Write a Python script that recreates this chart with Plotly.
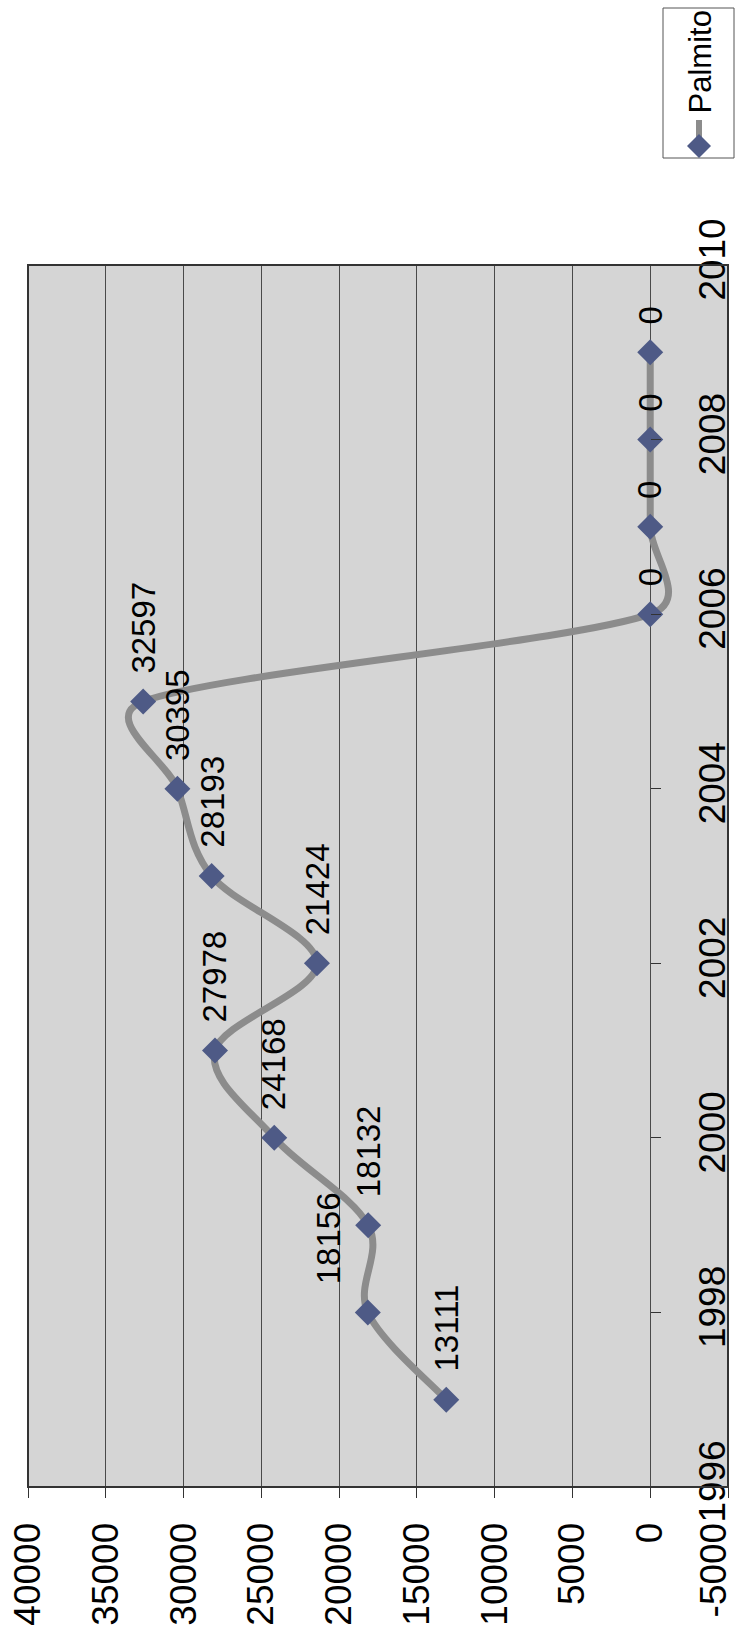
import math
import plotly.graph_objects as go

# ---- data -------------------------------------------------------------
years = [1997, 1998, 1999, 2000, 2001, 2002, 2003, 2004, 2005, 2006, 2007, 2008, 2009]
palmito = [13111, 18156, 18132, 24168, 27978, 21424, 28193, 30395, 32597, 0, 0, 0, 0]
value_ticks = [40000, 35000, 30000, 25000, 20000, 15000, 10000, 5000, 0, -5000]
year_ticks = [1996, 1998, 2000, 2002, 2004, 2006, 2008, 2010]
series_name = "Palmito"

# ---- layout constants -------------------------------------------------
W, H = 738, 1632
ML, MR, MT, MB = 28, 10, 265, 145
PW, PH = W - ML - MR, H - MT - MB
FONT = "Liberation Sans, Arial, sans-serif"
LINE_COLOR = "#8c8c8c"
MARKER_COLOR = "#4e5a86"
X_RANGE = [40000, -5000]  # value axis runs right-to-left
Y_RANGE = [1996, 2010]
TICK_FONT = 37
X_STANDOFF = 10


def px_to_paper(px, py):
    """Convert page pixel position to paper coordinates."""
    return (px - ML) / PW, (H - MB - py) / PH


def smooth_path(xs, ys):
    """Cubic Bezier path through the points, using spreadsheet-style
    smoothing: tangent along the neighbour chord, control arm 1/6 of that
    chord but never more than half of the segment it sits on.
    Distances are measured in screen pixels."""
    kx = PW / abs(X_RANGE[0] - X_RANGE[1])
    ky = PH / abs(Y_RANGE[1] - Y_RANGE[0])
    pts = [(x * kx, y * ky) for x, y in zip(xs, ys)]
    n = len(pts)

    def arm(i, toward):
        prev_pt = pts[i - 1] if i > 0 else pts[i]
        next_pt = pts[i + 1] if i + 1 < n else pts[i]
        tx, ty = next_pt[0] - prev_pt[0], next_pt[1] - prev_pt[1]
        tl = math.hypot(tx, ty)
        if tl == 0:
            return pts[i]
        seg = math.hypot(pts[toward][0] - pts[i][0], pts[toward][1] - pts[i][1])
        length = min(tl / 6, seg / 2)
        sgn = 1 if toward > i else -1
        return (pts[i][0] + sgn * tx / tl * length, pts[i][1] + sgn * ty / tl * length)

    def to_data(p):
        return f"{p[0] / kx},{p[1] / ky}"

    d = f"M {to_data(pts[0])}"
    for i in range(n - 1):
        d += f" C {to_data(arm(i, i + 1))} {to_data(arm(i + 1, i))} {to_data(pts[i + 1])}"
    return d


fig = go.Figure()

# smoothed series line
fig.add_shape(type="path", xref="x", yref="y", path=smooth_path(palmito, years),
              line=dict(color=LINE_COLOR, width=7), layer="between")

# series markers
fig.add_trace(go.Scatter(
    x=palmito, y=years,
    mode="markers",
    name=series_name,
    marker=dict(symbol="diamond", size=20, color=MARKER_COLOR,
                line=dict(width=0)),
    showlegend=False,
    cliponaxis=False,
))
# empty trace so the edge-label axis gets drawn
fig.add_trace(go.Scatter(x=[], y=[], xaxis="x2", yaxis="y", showlegend=False))

# data labels, rotated like the rest of the chart
label_xshift = {1998: -39}
for yr, v in zip(years, palmito):
    fig.add_annotation(
        x=v, y=yr, xref="x", yref="y",
        text=str(v), textangle=-90, showarrow=False,
        xanchor="center", yanchor="bottom",
        xshift=label_xshift.get(yr, 0), yshift=26,
        font=dict(family=FONT, size=33, color="black"),
    )

# legend box drawn rotated
lx0, ly0 = px_to_paper(663, 158)
lx1, ly1 = px_to_paper(734, 8)
fig.add_shape(type="rect", xref="paper", yref="paper",
              x0=lx0, y0=ly0, x1=lx1, y1=ly1,
              line=dict(color="#555555", width=1), fillcolor="white")
sx0, sy0 = px_to_paper(699, 150)
sx1, sy1 = px_to_paper(699, 120)
fig.add_shape(type="line", xref="paper", yref="paper",
              x0=sx0, y0=sy0, x1=sx1, y1=sy1,
              line=dict(color=LINE_COLOR, width=6))
cx, cy, r = 699, 146, 12
pts = [px_to_paper(cx, cy - r), px_to_paper(cx + r, cy),
       px_to_paper(cx, cy + r), px_to_paper(cx - r, cy)]
path = "M " + " L ".join(f"{a},{b}" for a, b in pts) + " Z"
fig.add_shape(type="path", xref="paper", yref="paper", path=path,
              fillcolor=MARKER_COLOR, line=dict(width=0))
tx, ty = px_to_paper(700, 116)
fig.add_annotation(xref="paper", yref="paper", x=tx, y=ty,
                   text=series_name, textangle=-90, showarrow=False,
                   xanchor="center", yanchor="bottom",
                   font=dict(family=FONT, size=31, color="black"))

# plot frame
fig.add_shape(type="rect", xref="paper", yref="paper", x0=0, y0=0, x1=1, y1=1,
              line=dict(color="#333333", width=2), layer="above")

zero_pos = (X_RANGE[0] - 0) / (X_RANGE[0] - X_RANGE[1])
edge_tick = value_ticks[-1]

fig.update_layout(
    width=W, height=H,
    margin=dict(l=ML, r=MR, t=MT, b=MB, pad=0, autoexpand=False),
    paper_bgcolor="white",
    plot_bgcolor="#d5d5d5",
    font=dict(family=FONT, color="black"),
    showlegend=False,
    xaxis=dict(
        range=X_RANGE, tickvals=value_ticks,
        ticktext=["" if v == edge_tick else str(v) for v in value_ticks],
        tickangle=-90, tickfont=dict(size=TICK_FONT),
        ticks="outside", ticklen=10, tickcolor="#333333", tickwidth=1,
        showgrid=True, gridcolor="#4a4a4a", gridwidth=1,
        zeroline=False, showline=False, automargin=False,
        ticklabelstandoff=X_STANDOFF, ticklabeloverflow="allow",
    ),
    # the last value label is nudged inward so it stays on the page
    xaxis2=dict(
        overlaying="x", anchor="y", side="bottom",
        range=X_RANGE, tickvals=[edge_tick], ticktext=[str(edge_tick)],
        tickangle=-90, tickfont=dict(size=TICK_FONT),
        ticks="outside", ticklen=10, tickcolor="rgba(0,0,0,0)",
        showgrid=False, zeroline=False, showline=False, automargin=False,
        ticklabelstandoff=X_STANDOFF, ticklabelshift=14,
        ticklabeloverflow="allow",
    ),
    yaxis=dict(
        range=Y_RANGE, tickvals=year_ticks,
        ticktext=[str(y) for y in year_ticks],
        tickangle=-90, tickfont=dict(size=TICK_FONT),
        side="right", anchor="free", position=zero_pos,
        ticks="outside", ticklen=10, tickcolor="#333333", tickwidth=1,
        showgrid=False, zeroline=False, showline=False, automargin=False,
        ticklabelstandoff=19, ticklabeloverflow="allow",
    ),
)

fig.write_html("out.html")
